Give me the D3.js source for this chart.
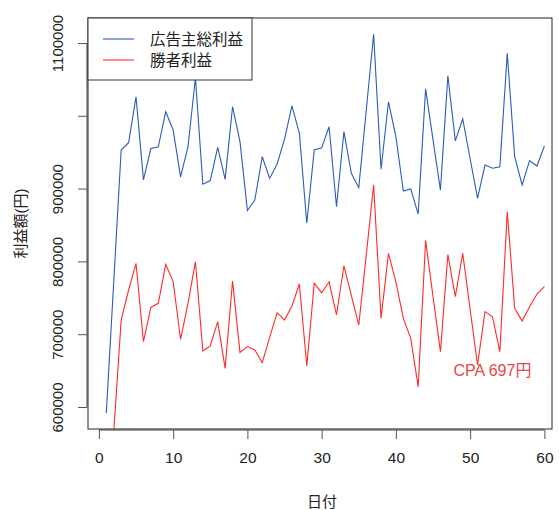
<!DOCTYPE html>
<html>
<head>
<meta charset="utf-8">
<script src="https://cdn.jsdelivr.net/npm/d3@7"></script>
<style>
  body { margin: 0; background: #fff; }
  svg text { font-family: "Liberation Sans", Arial, "Noto Sans CJK JP", sans-serif; fill: #222; }
</style>
</head>
<body>
<svg id="chart"></svg>
<script>
// daily profit values (yen), day 1..60
var days = d3.range(1, 61);
var advertiser = [591800, 772000, 953000, 963000, 1026000, 912000, 955000, 957500, 1005600, 980500,
  916000, 957500, 1052000, 906000, 911000, 956700, 912600, 1012500, 964500, 869800,
  884300, 943800, 914000, 933800, 968000, 1013500, 976000, 852400, 953000, 956000,
  985000, 875000, 978000, 921000, 901300, 1007000, 1112000, 926600, 1019000, 971300,
  896700, 899500, 865000, 1037000, 967000, 898000, 1055000, 965500, 995600, 941000,
  886500, 932400, 928000, 930000, 1085700, 943800, 905000, 938500, 931000, 958500];
var winner = [500000, 566000, 719500, 760700, 797400, 689700, 736800, 742400, 796000, 772200,
  693000, 742400, 799600, 677000, 683800, 717200, 653000, 773000, 675000, 683000,
  678300, 660900, 695700, 729500, 719500, 738700, 769000, 656300, 770000, 757000,
  772000, 726400, 794000, 753000, 712600, 808000, 904900, 721800, 811000, 772000,
  721800, 694300, 627900, 828500, 752000, 676000, 809500, 751500, 811000, 734000,
  657700, 731000, 724000, 676000, 868400, 735500, 718100, 737800, 755200, 765300];

var seriesNames = ['広告主総利益', '勝者利益'];
var xTicks = [0, 10, 20, 30, 40, 50, 60];
var yTicks = [600000, 700000, 800000, 900000, 1000000, 1100000];
var yTickLabels = ['600000', '700000', '800000', '900000', '', '1100000'];
var note = { day: 53, value: 650000, text: 'CPA 697円' };

var w = 559, h = 510;
var box = { left: 88, right: 552, top: 18, bottom: 429 };
var blue = '#2a5cb8', red = '#ff2a2a';

var svg = d3.select('#chart').attr('width', w).attr('height', h);

var x = d3.scaleLinear().domain([0, 60]).range([98.9, 544.4]);
var y = d3.scaleLinear().domain([600000, 1100000]).range([407, 43]);

svg.append('clipPath').attr('id', 'clip')
  .append('rect')
  .attr('x', box.left).attr('y', box.top)
  .attr('width', box.right - box.left).attr('height', box.bottom - box.top);

// lines
var line = function(vals) {
  return d3.line()
    .x(function(d, i) { return x(days[i]); })
    .y(function(d) { return y(d); })(vals);
};

var plot = svg.append('g').attr('clip-path', 'url(#clip)');
plot.append('path').attr('d', line(advertiser))
  .attr('fill', 'none').attr('stroke', blue).attr('stroke-width', 1.1);
plot.append('path').attr('d', line(winner))
  .attr('fill', 'none').attr('stroke', red).attr('stroke-width', 1.1);

// annotation
svg.append('text')
  .attr('x', x(note.day)).attr('y', y(note.value))
  .attr('text-anchor', 'middle').attr('dominant-baseline', 'central')
  .style('font-size', '16px').style('fill', '#e8454a')
  .text(note.text);

// axes
var xAxis = d3.axisBottom(x).tickValues(xTicks).tickSize(9).tickPadding(8);
var gx = svg.append('g').attr('transform', 'translate(0,' + (box.bottom + 1) + ')').call(xAxis);
gx.select('.domain').attr('d', 'M' + x(0) + ',0H' + x(60)).attr('stroke', '#444');
gx.selectAll('.tick line').attr('stroke', '#555');
gx.selectAll('.tick text').style('font-size', '15.5px').attr('y', 22);

var yAxis = d3.axisLeft(y).tickValues(yTicks)
  .tickFormat(function(d, i) { return yTickLabels[i]; })
  .tickSize(9);
var gy = svg.append('g').attr('transform', 'translate(' + (box.left - 1) + ',0)').call(yAxis);
gy.select('.domain').attr('d', 'M0,' + y(600000) + 'V' + y(1100000)).attr('stroke', '#444');
gy.selectAll('.tick line').attr('stroke', '#555');
gy.selectAll('.tick text')
  .style('font-size', '15px')
  .attr('x', 0).attr('dy', null)
  .attr('text-anchor', 'middle')
  .attr('transform', 'translate(-30,0) rotate(-90)')
  .attr('dominant-baseline', 'central');

// plot frame
svg.append('rect')
  .attr('x', box.left).attr('y', box.top)
  .attr('width', box.right - box.left).attr('height', box.bottom - box.top)
  .attr('fill', 'none').attr('stroke', '#222').attr('stroke-width', 1);

// axis titles
svg.append('text')
  .attr('x', 322).attr('y', 501)
  .attr('text-anchor', 'middle').attr('dominant-baseline', 'central')
  .style('font-size', '15px')
  .text('日付');
svg.append('text')
  .attr('transform', 'translate(20,' + ((box.top + box.bottom) / 2) + ') rotate(-90)')
  .attr('text-anchor', 'middle').attr('dominant-baseline', 'central')
  .style('font-size', '15px')
  .text('利益額(円)');

// legend
var legend = svg.append('g');
legend.append('rect')
  .attr('x', box.left).attr('y', box.top)
  .attr('width', 164).attr('height', 62)
  .attr('fill', '#fff').attr('stroke', '#333');
[blue, red].forEach(function(c, i) {
  var ly = 39 + i * 21;
  legend.append('line')
    .attr('x1', 103).attr('x2', 134).attr('y1', ly).attr('y2', ly)
    .attr('stroke', c).attr('stroke-width', 1.1);
  legend.append('text')
    .attr('x', 150).attr('y', ly)
    .attr('dominant-baseline', 'central')
    .style('font-size', '15.5px')
    .text(seriesNames[i]);
});
</script>
</body>
</html>
